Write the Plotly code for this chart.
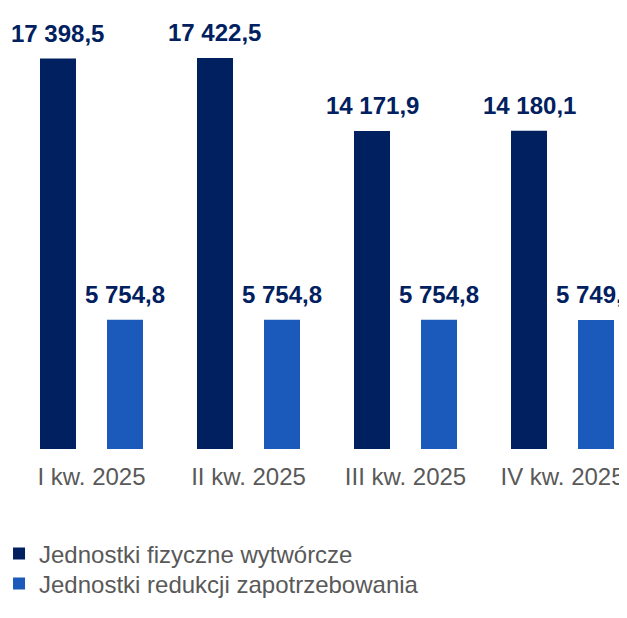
import plotly.graph_objects as go

categories = ["I kw. 2025", "II kw. 2025", "III kw. 2025", "IV kw. 2025"]
series_names = ["Jednostki fizyczne wytwórcze", "Jednostki redukcji zapotrzebowania"]
fizyczne = [17398.5, 17422.5, 14171.9, 14180.1]
redukcji = [5754.8, 5754.8, 5754.8, 5749.4]

DARK = "#002060"
LIGHT = "#1B5ABA"
FONT = "Liberation Sans, Arial, sans-serif"

bar_w = 0.2293
centers = [-0.2134, 0.2134]

def fmt(v):
    return f"{v:,.1f}".replace(",", " ").replace(".", ",")

fig = go.Figure()
legends = ["legend", "legend2"]
for vals, name, color, c, lg in [(fizyczne, series_names[0], DARK, centers[0], legends[0]),
                                  (redukcji, series_names[1], LIGHT, centers[1], legends[1])]:
    fig.add_trace(go.Bar(x=categories, y=vals, name=name, marker_color=color,
                         marker_line_width=0, width=bar_w, offset=c - bar_w / 2,
                         legend=lg))

annotations = []
for vals, c in [(fizyczne, centers[0]), (redukcji, centers[1])]:
    for i, v in enumerate(vals):
        annotations.append(dict(x=i + c, y=v, xref="x", yref="y", text=f"<b>{fmt(v)}</b>",
                                showarrow=False, yanchor="bottom", xanchor="center", yshift=10,
                                font=dict(family=FONT, size=24, color=DARK)))

legend_style = dict(x=-0.0145, xanchor="left", yanchor="middle", orientation="v",
                    font=dict(family=FONT, size=24, color="#595959"),
                    bgcolor="rgba(0,0,0,0)")

fig.update_layout(
    width=619, height=596,
    margin=dict(l=0, r=0, t=0, b=155, autoexpand=False),
    paper_bgcolor="white", plot_bgcolor="white",
    barmode="group",
    showlegend=True,
    legend=dict(y=-0.2381, **legend_style),
    legend2=dict(y=-0.3061, **legend_style),
    annotations=annotations,
    xaxis=dict(type="category", range=[-0.5318, 3.4108], showgrid=False, zeroline=False,
               showline=False, ticks="outside", ticklen=6, tickcolor="rgba(0,0,0,0)",
               tickfont=dict(family=FONT, size=24, color="#595959")),
    yaxis=dict(range=[0, 19652], visible=False),
)

fig.write_html("out.html")
